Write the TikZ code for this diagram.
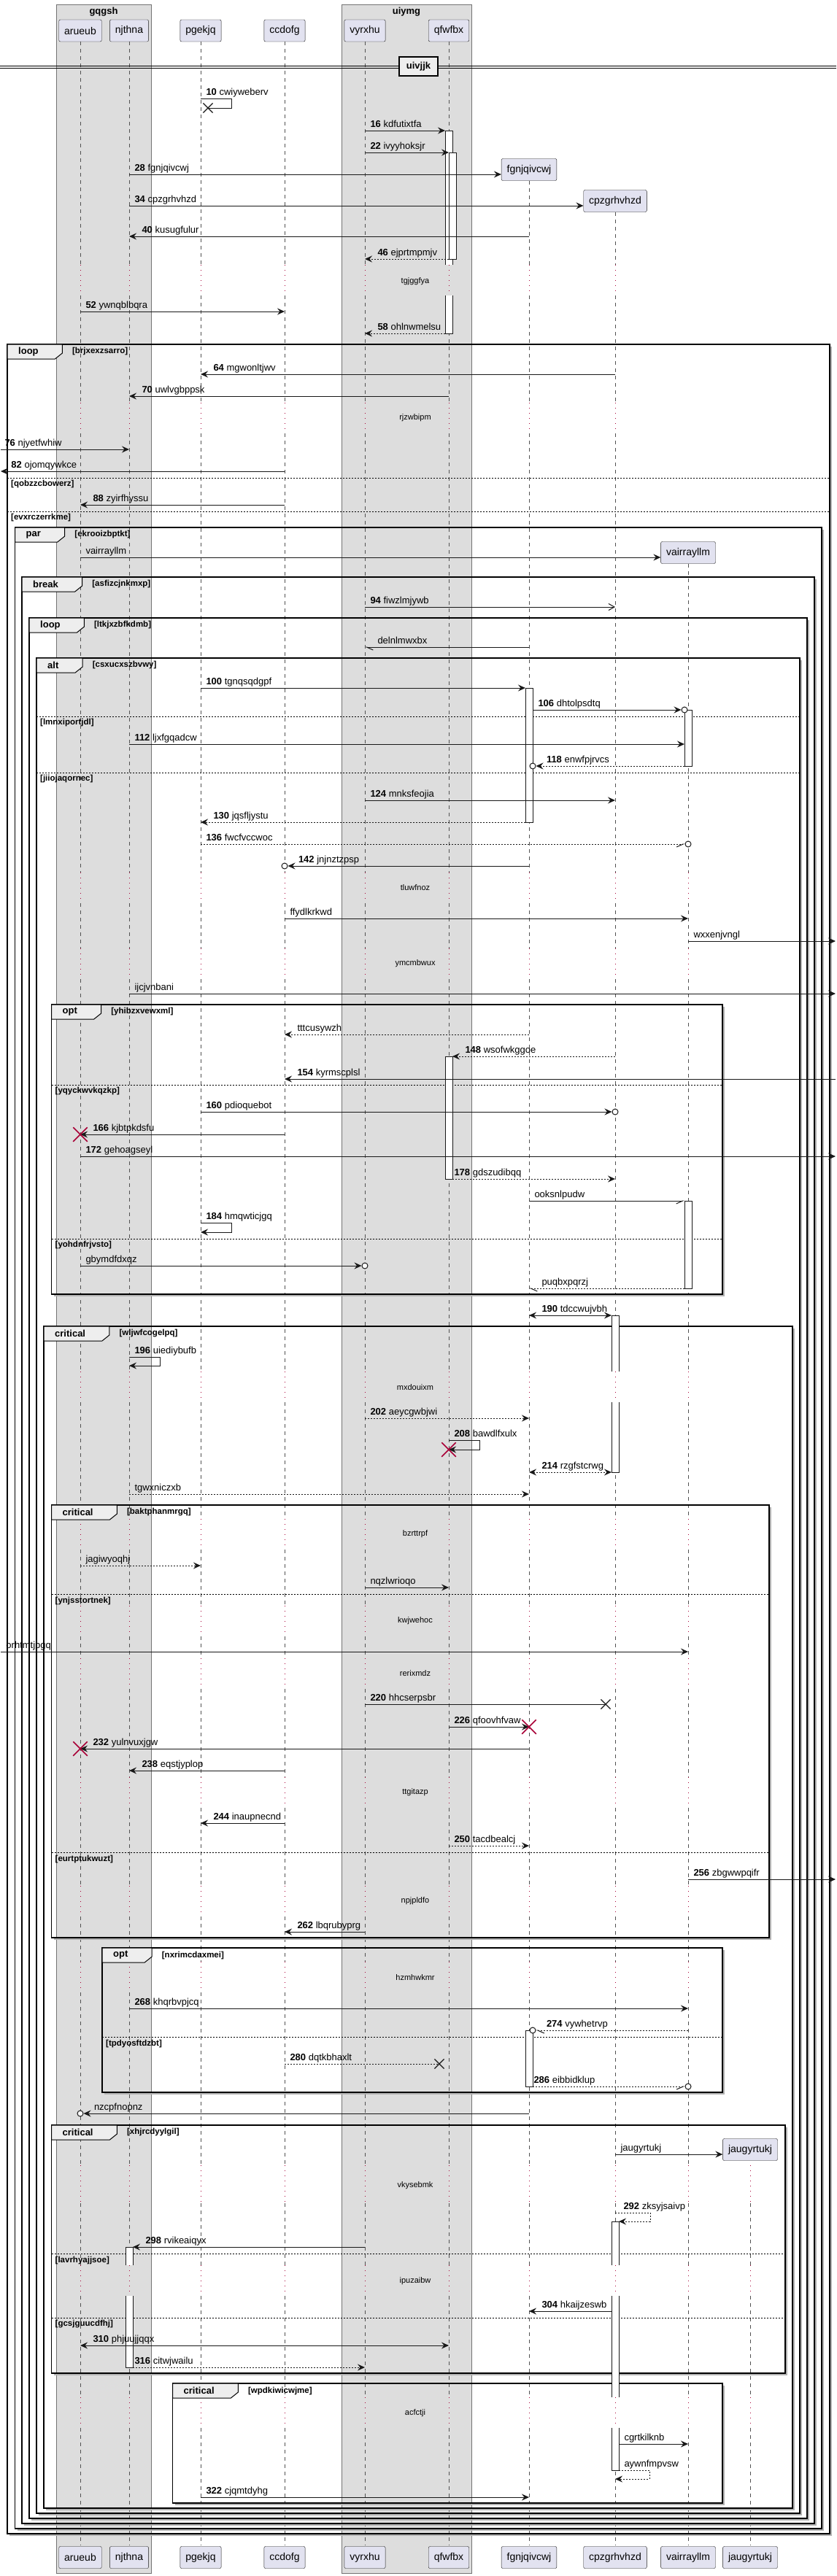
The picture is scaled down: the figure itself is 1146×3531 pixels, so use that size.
\documentclass[tikz,border=0pt]{standalone}
\usepackage{fontspec}
\setmainfont{Liberation Sans}
\usepackage{tikz}
\usetikzlibrary{arrows.meta}
\usetikzlibrary{shapes.misc,positioning,calc}

\definecolor{linec}{HTML}{181818}
\definecolor{partfill}{HTML}{E2E2F0}
\definecolor{boxfill}{HTML}{DDDDDD}
\definecolor{tabfill}{HTML}{EEEEEE}
\definecolor{delayc}{HTML}{A80036}

\newcommand{\msgfont}{\fontsize{13}{15}\selectfont}
\newcommand{\partfont}{\fontsize{14}{16}\selectfont}
\newcommand{\keyfont}{\bfseries\fontsize{13}{15}\selectfont}
\newcommand{\condfont}{\bfseries\fontsize{11.5}{13}\selectfont}
\newcommand{\delayfont}{\fontsize{11}{13}\selectfont}

\tikzset{
  part/.style={draw=linec, fill=partfill, rounded corners=2pt, minimum height=30pt, inner xsep=7.5pt, inner ysep=0pt, font=\partfont},
  groupbox/.style={draw=black!55, fill=boxfill, line width=0.5pt},
  grouptitle/.style={font=\keyfont, inner sep=0pt},
  life/.style={draw=linec!75, line width=0.6pt, dash pattern=on 5pt off 5pt},
  delayline/.style={draw=delayc, line width=0.9pt, dash pattern=on 1pt off 6pt},
  delaytext/.style={font=\delayfont, inner sep=0pt},
  frameline/.style={draw=black, line width=1.5pt},
  shadowline/.style={draw=black!30, line width=1.2pt},
  tabbox/.style={anchor=north west, inner sep=0pt, outer sep=0pt, minimum height=20pt, font=\keyfont},
  tabline/.style={draw=black, fill=tabfill, line width=1pt},
  keytext/.style={font=\keyfont, inner sep=0pt},
  condtext/.style={font=\condfont, inner sep=0pt},
  elseline/.style={draw=black, line width=1pt, dash pattern=on 2pt off 2pt},
  act/.style={draw=linec, fill=white, line width=1pt, minimum width=10pt, inner sep=0pt, outer sep=0pt, anchor=north},
  actedge/.style={draw=linec, line width=1pt},
  msg/.style={draw=linec, line width=1pt, -{Stealth[length=10pt,width=9pt,inset=3.5pt]}},
  dmsg/.style={msg, dash pattern=on 2pt off 2pt},
  twoway/.style={{Stealth[length=10pt,width=9pt,inset=3.5pt]}-{Stealth[length=10pt,width=9pt,inset=3.5pt]}},
  openhead/.style={-{Straight Barb[length=8pt,width=9pt]}},
  halfwest/.style={-{Straight Barb[harpoon,length=9pt,width=8pt]}},
  halfeast/.style={-{Straight Barb[harpoon,swap,length=9pt,width=8pt]}},
  lr/.style={anchor=base west, inner sep=0pt, xshift=7pt, yshift=5pt, font=\msgfont},
  ll/.style={anchor=base west, inner sep=0pt, xshift=17pt, yshift=5pt, font=\msgfont},
  llc/.style={anchor=base west, inner sep=0pt, xshift=14pt, yshift=5pt, font=\msgfont},
  endc/.style={circle, draw=linec, fill=white, line width=1pt, minimum size=8pt, inner sep=0pt},
  kill/.style={cross out, draw=delayc, line width=1.5pt, minimum size=18pt, inner sep=0pt},
  lost/.style={cross out, draw=linec, line width=1.2pt, minimum size=12pt, inner sep=0pt},
  divbox/.style={draw=black, fill=tabfill, line width=1.5pt, minimum width=53pt, minimum height=26pt, inner sep=0pt, font=\keyfont}
}

% frame: name, x1, y1, x2, y2, keyword, condition
\newcommand{\seqframe}[7]{%
  \draw[shadowline] (#2+3,#5+2) -- (#4+2,#5+2) -- (#4+2,#3+3);
  \draw[frameline] (#2,#3) rectangle (#4,#5);
  \node[tabbox] (#1) at (#2,#3) {\hspace*{15pt}\phantom{#6}\hspace*{33pt}};
  \filldraw[tabline] (#1.north west) -- (#1.north east) -- ([yshift=8pt]#1.south east) -- ([xshift=-10pt]#1.south east) -- (#1.south west) -- cycle;
  \node[keytext, anchor=west] at ([xshift=15pt]#1.west) {#6};
  \node[condtext, anchor=west] at ([xshift=13.5pt]#1.east) {[#7]};
}

\begin{document}
\begin{tikzpicture}[x=1pt, y=-1pt]
\fill[white] (0,0) rectangle (1146,3531);
\useasboundingbox (0,0) rectangle (1146,3531);
\coordinate (lft) at (1,0);
\coordinate (rgt) at (1145,0);

% boxes
\draw[groupbox] (77,6) rectangle (207,3527);
\draw[groupbox] (468,6) rectangle (646,3527);
\node[grouptitle] (gqgsh) at (142,16) {gqgsh};
\node[grouptitle] (uiymg) at (557,16) {uiymg};

% participants
\node[part] (arueub) at (110,42) {arueub};
\node[part] (njthna) at (177,42) {njthna};
\node[part] (pgekjq) at (275,42) {pgekjq};
\node[part] (ccdofg) at (390,42) {ccdofg};
\node[part] (vyrxhu) at (500,42) {vyrxhu};
\node[part] (qfwfbx) at (615,42) {qfwfbx};
\node[part] (fgnjqivcwj) at (725,232.5) {fgnjqivcwj};
\node[part] (cpzgrhvhzd) at (843,275.5) {cpzgrhvhzd};
\node[part] (vairrayllm) at (943,757.5) {vairrayllm};
\node[part] (jaugyrtukj) at (1028,2946.5) {jaugyrtukj};
\node[part] (arueub2) at (110,3505.5) {arueub};
\node[part] (njthna2) at (177,3505.5) {njthna};
\node[part] (pgekjq2) at (275,3505.5) {pgekjq};
\node[part] (ccdofg2) at (390,3505.5) {ccdofg};
\node[part] (vyrxhu2) at (500,3505.5) {vyrxhu};
\node[part] (qfwfbx2) at (615,3505.5) {qfwfbx};
\node[part] (fgnjqivcwj2) at (725,3505.5) {fgnjqivcwj};
\node[part] (cpzgrhvhzd2) at (843,3505.5) {cpzgrhvhzd};
\node[part] (vairrayllm2) at (943,3505.5) {vairrayllm};
\node[part] (jaugyrtukj2) at (1028,3505.5) {jaugyrtukj};

% lifelines
\foreach \p in {arueub,njthna,pgekjq,ccdofg,vyrxhu,qfwfbx,fgnjqivcwj,cpzgrhvhzd}
  \draw[life] (\p.south) -- (\p |- 0,363);
\draw[life] (vairrayllm.south) -- (vairrayllm |- 0,1196);
\foreach \p in {arueub,njthna,pgekjq,ccdofg,vyrxhu,qfwfbx,fgnjqivcwj,cpzgrhvhzd}
  \foreach \a/\b in {405/552,594/1196}
    \draw[life] (\p |- 0,\a) -- (\p |- 0,\b);
\foreach \p in {arueub,njthna,pgekjq,ccdofg,vyrxhu,qfwfbx,fgnjqivcwj,cpzgrhvhzd,vairrayllm}
  \foreach \a/\b in {1238/1300,1342/1880,1922/2082,2124/2201,2243/2273,2315/2436,2478/2585,2627/2689,2731/2968}
    \draw[life] (\p |- 0,\a) -- (\p |- 0,\b);
\foreach \p in {arueub,njthna,pgekjq,ccdofg,vyrxhu,qfwfbx,fgnjqivcwj,cpzgrhvhzd,vairrayllm,jaugyrtukj}
  \foreach \a/\b in {3020/3105,3147/3286,3328/3489}
    \draw[life] (\p |- 0,\a) -- (\p |- 0,\b);
% delays
\foreach \p in {arueub,njthna,pgekjq,ccdofg,vyrxhu,qfwfbx,fgnjqivcwj,cpzgrhvhzd}
  \foreach \a/\b in {363/405,552/594}
    \draw[delayline] (\p |- 0,\a) -- (\p |- 0,\b);
\foreach \p in {arueub,njthna,pgekjq,ccdofg,vyrxhu,qfwfbx,fgnjqivcwj,cpzgrhvhzd,vairrayllm}
  \foreach \a/\b in {1196/1238,1300/1342,1880/1922,2082/2124,2201/2243,2273/2315,2436/2478,2585/2627,2689/2731}
    \draw[delayline] (\p |- 0,\a) -- (\p |- 0,\b);
\foreach \p in {arueub,njthna,pgekjq,ccdofg,vyrxhu,qfwfbx,fgnjqivcwj,cpzgrhvhzd,vairrayllm,jaugyrtukj}
  \foreach \a/\b in {2968/3020,3105/3147,3286/3328}
    \draw[delayline] (\p |- 0,\a) -- (\p |- 0,\b);

% divider
\draw[line width=1pt] (0,90) -- (1146,90) (0,93) -- (1146,93);
\node[divbox] (uivjjk) at (573.5,91) {uivjjk};

% frames
\seqframe{f1}{10}{472}{1137}{3473}{loop}{brjxexzsarro}
\seqframe{f2}{20.5}{723}{1126}{3466}{par}{ekrooizbptkt}
\seqframe{f3}{30}{791}{1116}{3459}{break}{asfizcjnkmxp}
\seqframe{f4}{40}{847}{1106}{3452}{loop}{ltkjxzbfkdmb}
\seqframe{f5}{50}{902}{1096}{3445}{alt}{csxucxszbvwy}
\seqframe{f6}{70.5}{1377}{990}{1774}{opt}{yhibzxvewxml}
\seqframe{f7}{60}{1818}{1086}{3438}{critical}{wljwfcogelpq}
\seqframe{f8}{70.5}{2063}{1054}{2656}{critical}{baktphanmrgq}
\seqframe{f9}{140}{2670}{990}{2868}{opt}{nxrimcdaxmei}
\seqframe{f10}{70.5}{2913}{1076}{3253}{critical}{xhjrcdyylgil}
\seqframe{f11}{236.5}{3267}{990}{3431}{critical}{wpdkiwicwjme}

% else
\draw[elseline] (10,655) -- (1137,655);
\node[condtext, anchor=west] (e1) at (15,664) {[qobzzcbowerz]};
\draw[elseline] (10,701) -- (1137,701);
\node[condtext, anchor=west] (e2) at (15,710) {[evxrczerrkme]};
\draw[elseline] (50,982) -- (1096,982);
\node[condtext, anchor=west] (e3) at (55,991) {[lmnxiportjdl]};
\draw[elseline] (50,1059) -- (1096,1059);
\node[condtext, anchor=west] (e4) at (55,1068) {[jiiojaqornec]};
\draw[elseline] (70.5,1487) -- (990,1487);
\node[condtext, anchor=west] (e5) at (75.5,1496) {[yqyckwvkqzkp]};
\draw[elseline] (70.5,1698) -- (990,1698);
\node[condtext, anchor=west] (e6) at (75.5,1707) {[yohdnfrjvsto]};
\draw[elseline] (70.5,2185) -- (1054,2185);
\node[condtext, anchor=west] (e7) at (75.5,2194) {[ynjsstortnek]};
\draw[elseline] (70.5,2539) -- (1054,2539);
\node[condtext, anchor=west] (e8) at (75.5,2548) {[eurtptukwuzt]};
\draw[elseline] (140,2792) -- (990,2792);
\node[condtext, anchor=west] (e9) at (145,2801) {[tpdyosftdzbt]};
\draw[elseline] (70.5,3089) -- (1076,3089);
\node[condtext, anchor=west] (e10) at (75.5,3098) {[lavrhyajjsoe]};
\draw[elseline] (70.5,3177) -- (1076,3177);
\node[condtext, anchor=west] (e11) at (75.5,3186) {[gcsjguucdfhj]};

% activations
\node[act, draw=none, minimum height=184pt] (a1) at (615,179) {};
\draw[actedge] (a1.south west) -- (a1.north west) -- (a1.north east) -- (a1.south east);
\node[act, draw=none, minimum height=52pt] (a1b) at (615,405) {};
\draw[actedge] (a1b.north west) -- (a1b.south west) -- (a1b.south east) -- (a1b.north east);
\node[act, minimum height=146pt] (a2) at (620,209) {};
\node[act, minimum height=184pt] (a3) at (725,943) {};
\node[act, minimum height=77pt] (a4) at (943,973) {};
\node[act, minimum height=168pt] (a5) at (615,1448) {};
\node[act, minimum height=120pt] (a6) at (943,1646) {};
\node[act, draw=none, minimum height=77pt] (a7) at (843,1803) {};
\draw[actedge] (a7.south west) -- (a7.north west) -- (a7.north east) -- (a7.south east);
\node[act, draw=none, minimum height=96pt] (a7b) at (843,1922) {};
\draw[actedge] (a7b.north west) -- (a7b.south west) -- (a7b.south east) -- (a7b.north east);
\node[act, minimum height=77pt] (a8) at (725,2783) {};
\node[act, draw=none, minimum height=60pt] (a9) at (843,3045) {};
\draw[actedge] (a9.south west) -- (a9.north west) -- (a9.north east) -- (a9.south east);
\node[act, draw=none, minimum height=139pt] (a9b) at (843,3147) {};
\draw[actedge] (a9b.north west) -- (a9b.south west) (a9b.north east) -- (a9b.south east);
\node[act, draw=none, minimum height=58pt] (a9c) at (843,3328) {};
\draw[actedge] (a9c.north west) -- (a9c.south west) -- (a9c.south east) -- (a9c.north east);
\node[act, draw=none, minimum height=25pt] (a10) at (177,3080) {};
\draw[actedge] (a10.south west) -- (a10.north west) -- (a10.north east) -- (a10.south east);
\node[act, draw=none, minimum height=98pt] (a10b) at (177,3147) {};
\draw[actedge] (a10b.north west) -- (a10b.south west) -- (a10b.south east) -- (a10b.north east);

% messages
\node[lost] (x10) at (285,148) {};
\draw[msg, -] (pgekjq |- 0,135) node[lr] {\textbf{10} cwiyweberv} -- ++(42,0) -- ++(0,13) -- (x10.center);
\draw[msg] (vyrxhu |- 0,179) node[lr] {\textbf{16} kdfutixtfa} -- (a1.west |- 0,179);
\draw[msg] (vyrxhu |- 0,209) node[lr] {\textbf{22} ivyyhoksjr} -- (a2.west |- 0,209);
\draw[msg] (njthna |- 0,239) node[lr] {\textbf{28} fgnjqivcwj} -- (fgnjqivcwj.west |- 0,239);
\draw[msg] (njthna |- 0,282) node[lr] {\textbf{34} cpzgrhvhzd} -- (cpzgrhvhzd.west |- 0,282);
\draw[msg] (fgnjqivcwj |- 0,324) -- (njthna |- 0,324) node[ll] {\textbf{40} kusugfulur};
\draw[dmsg] (a2.west |- 0,355) -- (vyrxhu |- 0,355) node[ll] {\textbf{46} ejprtmpmjv};
\draw[msg] (arueub |- 0,427) node[lr] {\textbf{52} ywnqblbqra} -- (ccdofg |- 0,427);
\draw[dmsg] (a1b.west |- 0,457) -- (vyrxhu |- 0,457) node[ll] {\textbf{58} ohlnwmelsu};
\draw[msg] (cpzgrhvhzd |- 0,513) -- (pgekjq |- 0,513) node[ll] {\textbf{64} mgwonltjwv};
\draw[msg] (qfwfbx |- 0,543) -- (njthna |- 0,543) node[ll] {\textbf{70} uwlvgbppsk};
\draw[msg] (lft |- 0,616) node[lr, xshift=-2pt] {\textbf{76} njyetfwhiw} -- (njthna |- 0,616);
\draw[msg] (ccdofg |- 0,646) -- (lft |- 0,646) node[ll, xshift=-3pt] {\textbf{82} ojomqywkce};
\draw[msg] (ccdofg |- 0,692) -- (arueub |- 0,692) node[ll] {\textbf{88} zyirfhyssu};
\draw[msg] (arueub |- 0,764) node[lr] {vairrayllm} -- (vairrayllm.west |- 0,764);
\draw[msg, openhead] (vyrxhu |- 0,832) node[lr] {\textbf{94} fiwzlmjywb} -- (cpzgrhvhzd |- 0,832);
\draw[msg, halfwest] (fgnjqivcwj |- 0,887) -- (vyrxhu |- 0,887) node[ll] {delnlmwxbx};
\draw[msg] (pgekjq |- 0,943) node[lr] {\textbf{100} tgnqsqdgpf} -- (a3.west |- 0,943);
\node[endc] (c106) at (a4.west |- 0,973) {};
\draw[msg] (a3.east |- 0,973) node[lr] {\textbf{106} dhtolpsdtq} -- (c106.west);
\draw[msg] (njthna |- 0,1020) node[lr] {\textbf{112} ljxfgqadcw} -- (a4.west |- 0,1020);
\node[endc] (c118) at (a3.east |- 0,1050) {};
\draw[dmsg] (a4.west |- 0,1050) -- (c118.east) node[llc] {\textbf{118} enwfpjrvcs};
\draw[msg] (vyrxhu |- 0,1097) node[lr] {\textbf{124} mnksfeojia} -- (cpzgrhvhzd |- 0,1097);
\draw[dmsg] (a3.west |- 0,1127) -- (pgekjq |- 0,1127) node[ll] {\textbf{130} jqsfljystu};
\node[endc] (c136) at (vairrayllm |- 0,1157) {};
\draw[dmsg, halfeast] (pgekjq |- 0,1157) node[lr] {\textbf{136} fwcfvccwoc} -- (c136.west);
\node[endc] (c142) at (ccdofg |- 0,1187) {};
\draw[msg] (fgnjqivcwj |- 0,1187) -- (c142.east) node[llc] {\textbf{142} jnjnztzpsp};
\draw[msg] (ccdofg |- 0,1259) node[lr] {ffydlkrkwd} -- (vairrayllm |- 0,1259);
\draw[msg] (vairrayllm |- 0,1290) node[lr] {wxxenjvngl} -- (rgt |- 0,1290);
\draw[msg] (njthna |- 0,1362) node[lr] {ijcjvnbani} -- (rgt |- 0,1362);
\draw[dmsg] (fgnjqivcwj |- 0,1418) -- (ccdofg |- 0,1418) node[ll] {tttcusywzh};
\draw[dmsg] (cpzgrhvhzd |- 0,1448) -- (a5.east |- 0,1448) node[ll] {\textbf{148} wsofwkggoe};
\draw[msg] (rgt |- 0,1479) -- (ccdofg |- 0,1479) node[ll] {\textbf{154} kyrmscplsl};
\node[endc] (c160) at (cpzgrhvhzd |- 0,1524) {};
\draw[msg] (pgekjq |- 0,1524) node[lr] {\textbf{160} pdioquebot} -- (c160.west);
\draw[msg] (ccdofg |- 0,1555) -- (arueub |- 0,1555) node[ll] {\textbf{166} kjbtpkdsfu};
\node[kill] (x166) at (arueub |- 0,1555) {};
\draw[msg] (arueub |- 0,1585) node[lr] {\textbf{172} gehoagseyl} -- (rgt |- 0,1585);
\draw[dmsg] (a5.east |- 0,1616) node[lr, xshift=-5pt] {\textbf{178} gdszudibqq} -- (cpzgrhvhzd |- 0,1616);
\draw[msg, halfeast] (fgnjqivcwj |- 0,1646) node[lr] {ooksnlpudw} -- (a6.west |- 0,1646);
\draw[msg] (pgekjq |- 0,1676) node[lr] {\textbf{184} hmqwticjgq} -- ++(42,0) -- ++(0,13) -- (pgekjq |- 0,1689);
\node[endc] (cgby) at (vyrxhu |- 0,1735) {};
\draw[msg] (arueub |- 0,1735) node[lr] {gbymdfdxqz} -- (cgby.west);
\draw[dmsg, halfwest] (a6.west |- 0,1766) -- (fgnjqivcwj |- 0,1766) node[ll] {puqbxpqrzj};
\draw[msg, twoway] (fgnjqivcwj |- 0,1803) node[ll] {\textbf{190} tdccwujvbh} -- (a7.west |- 0,1803);
\draw[msg] (njthna |- 0,1860) node[lr] {\textbf{196} uiediybufb} -- ++(42,0) -- ++(0,12) -- (njthna |- 0,1872);
\draw[dmsg] (vyrxhu |- 0,1944) node[lr] {\textbf{202} aeycgwbjwi} -- (fgnjqivcwj |- 0,1944);
\draw[msg] (qfwfbx |- 0,1974) node[lr] {\textbf{208} bawdlfxulx} -- ++(42,0) -- ++(0,13) -- (qfwfbx |- 0,1987);
\node[kill] (x208) at (qfwfbx |- 0,1987) {};
\draw[dmsg, twoway] (fgnjqivcwj |- 0,2018) node[ll] {\textbf{214} rzgfstcrwg} -- (a7b.west |- 0,2018);
\draw[dmsg] (njthna |- 0,2048) node[lr] {tgwxniczxb} -- (fgnjqivcwj |- 0,2048);
\draw[dmsg] (arueub |- 0,2146) node[lr] {jagiwyoqhj} -- (pgekjq |- 0,2146);
\draw[msg] (vyrxhu |- 0,2176) node[lr] {nqzlwrioqo} -- (qfwfbx |- 0,2176);
\draw[msg] (lft |- 0,2264) node[lr] {orhtmtjpgq} -- (vairrayllm |- 0,2264);
\node[lost] (x220) at (830,2336) {};
\draw[msg, -] (vyrxhu |- 0,2336) node[lr] {\textbf{220} hhcserpsbr} -- (x220.center);
\draw[msg] (qfwfbx |- 0,2367) node[lr] {\textbf{226} qfoovhfvaw} -- (fgnjqivcwj |- 0,2367);
\node[kill] (x226) at (fgnjqivcwj |- 0,2367) {};
\draw[msg] (fgnjqivcwj |- 0,2397) -- (arueub |- 0,2397) node[ll] {\textbf{232} yulnvuxjgw};
\node[kill] (x232) at (arueub |- 0,2397) {};
\draw[msg] (ccdofg |- 0,2427) -- (njthna |- 0,2427) node[ll] {\textbf{238} eqstjyplop};
\draw[msg] (ccdofg |- 0,2499) -- (pgekjq |- 0,2499) node[ll] {\textbf{244} inaupnecnd};
\draw[dmsg] (qfwfbx |- 0,2530) node[lr] {\textbf{250} tacdbealcj} -- (fgnjqivcwj |- 0,2530);
\draw[msg] (vairrayllm |- 0,2576) node[lr] {\textbf{256} zbgwwpqifr} -- (rgt |- 0,2576);
\draw[msg] (vyrxhu |- 0,2648) -- (ccdofg |- 0,2648) node[ll] {\textbf{262} lbqrubyprg};
\draw[msg] (njthna |- 0,2753) node[lr] {\textbf{268} khqrbvpjcq} -- (vairrayllm |- 0,2753);
\node[endc] (c274) at (a8.east |- 0,2783) {};
\draw[dmsg, halfwest] (vairrayllm |- 0,2783) -- (c274.east) node[llc] {\textbf{274} vywhetrvp};
\node[lost] (x280) at (602,2829) {};
\draw[dmsg, -] (ccdofg |- 0,2829) node[lr] {\textbf{280} dqtkbhaxlt} -- (x280.center);
\node[endc] (c286) at (vairrayllm |- 0,2860) {};
\draw[dmsg, halfeast] (a8.east |- 0,2860) node[lr, xshift=-6pt] {\textbf{286} eibbidklup} -- (c286.west);
\node[endc] (cnzc) at (arueub |- 0,2897) {};
\draw[msg] (fgnjqivcwj |- 0,2897) -- (cnzc.east) node[llc] {nzcpfnopnz};
\draw[msg] (cpzgrhvhzd |- 0,2953) node[lr] {jaugyrtukj} -- (jaugyrtukj.west |- 0,2953);
\draw[dmsg] (cpzgrhvhzd |- 0,3033) node[lr, xshift=4pt] {\textbf{292} zksyjsaivp} -- ++(48,0) -- ++(0,12) -- (a9.east |- 0,3045);
\draw[msg] (vyrxhu |- 0,3080) -- (a10.east |- 0,3080) node[ll] {\textbf{298} rvikeaiqyx};
\draw[msg] (a9b.west |- 0,3168) -- (fgnjqivcwj |- 0,3168) node[ll] {\textbf{304} hkaijzeswb};
\draw[msg, twoway] (arueub |- 0,3215) node[ll] {\textbf{310} phjuujjqqx} -- (qfwfbx |- 0,3215);
\draw[dmsg] (a10b.east |- 0,3245) node[lr, xshift=-5pt] {\textbf{316} citwjwailu} -- (vyrxhu |- 0,3245);
\draw[msg] (a9c.east |- 0,3350) node[lr] {cgrtkilknb} -- (vairrayllm |- 0,3350);
\draw[dmsg] (a9c.east |- 0,3386) node[lr] {aywnfmpvsw} -- ++(42,0) -- ++(0,12) -- (cpzgrhvhzd |- 0,3398);
\draw[msg] (pgekjq |- 0,3423) node[lr] {\textbf{322} cjqmtdyhg} -- (fgnjqivcwj |- 0,3423);

% delay texts
\node[delaytext] (d1) at (569,386) {tgjggfya};
\node[delaytext] (d2) at (569,573) {rjzwbipm};
\node[delaytext] (d3) at (569,1217) {tluwfnoz};
\node[delaytext] (d4) at (569,1321) {ymcmbwux};
\node[delaytext] (d5) at (569,1902) {mxdouixm};
\node[delaytext] (d6) at (569,2103) {bzrttrpf};
\node[delaytext] (d7) at (569,2222) {kwjwehoc};
\node[delaytext] (d8) at (569,2294) {rerixmdz};
\node[delaytext] (d9) at (569,2457) {ttgitazp};
\node[delaytext] (d10) at (569,2606) {npjpldfo};
\node[delaytext] (d11) at (569,2710) {hzmhwkmr};
\node[delaytext] (d12) at (569,2996) {vkysebmk};
\node[delaytext] (d13) at (569,3127) {ipuzaibw};
\node[delaytext] (d14) at (569,3308) {acfctji};
\end{tikzpicture}
\end{document}
